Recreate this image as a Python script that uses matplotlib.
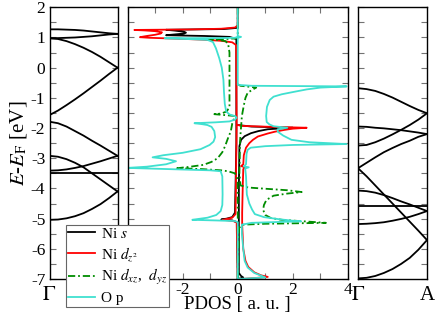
import numpy as np
import matplotlib
matplotlib.use("Agg")
import matplotlib.pyplot as plt
from matplotlib.ticker import MultipleLocator

plt.rcParams['font.family'] = ['Liberation Serif', 'DejaVu Serif']
plt.rcParams['mathtext.fontset'] = 'stix'
plt.rcParams['axes.unicode_minus'] = False

# ---------------- band structure data ----------------
kpts = [0.0, 0.125, 0.25, 0.375, 0.5, 0.625, 0.75, 0.875, 1.0]

# Gamma -> M panel
bands_gm = [
    [1.27, 1.27, 1.26, 1.25, 1.23, 1.20, 1.17, 1.14, 1.12],
    [0.98, 0.98, 0.99, 1.00, 1.02, 1.04, 1.07, 1.10, 1.12],
    [0.97, 0.95, 0.88, 0.78, 0.66, 0.52, 0.36, 0.18, 0.00],
    [-1.57, -1.42, -1.24, -1.05, -0.85, -0.64, -0.43, -0.21, 0.00],
    [-1.79, -1.84, -1.95, -2.10, -2.25, -2.42, -2.58, -2.75, -2.92],
    [-2.92, -2.95, -3.03, -3.15, -3.30, -3.50, -3.70, -3.90, -4.10],
    [-3.41, -3.40, -3.37, -3.32, -3.26, -3.18, -3.10, -3.01, -2.92],
    [-3.48, -3.48, -3.48, -3.48, -3.48, -3.48, -3.48, -3.48, -3.48],
    [-5.04, -5.03, -4.99, -4.92, -4.82, -4.68, -4.52, -4.32, -4.10],
]

# Gamma -> A panel
bands_ga = [
    [-0.68, -0.71, -0.77, -0.87, -0.99, -1.13, -1.27, -1.40, -1.51],
    [-1.95, -1.96, -1.99, -2.01, -2.04, -2.07, -2.11, -2.15, -2.20],
    [-2.58, -2.56, -2.47, -2.35, -2.21, -2.06, -1.90, -1.72, -1.51],
    [-3.33, -3.15, -2.97, -2.80, -2.66, -2.53, -2.42, -2.29, -2.20],
    [-3.33, -3.60, -3.90, -4.20, -4.50, -4.80, -5.10, -5.40, -5.71],
    [-4.07, -4.09, -4.14, -4.22, -4.32, -4.43, -4.53, -4.64, -4.75],
    [-4.58, -4.58, -4.58, -4.58, -4.58, -4.58, -4.58, -4.58, -4.58],
    [-5.18, -5.17, -5.15, -5.12, -5.07, -5.01, -4.94, -4.85, -4.75],
    [-6.98, -6.96, -6.90, -6.80, -6.67, -6.50, -6.30, -6.03, -5.71],
]

# ---------------- PDOS data: (energy, pdos) ----------------
ni_s_a = [(2.0, 0), (1.32, 0), (1.28, -0.5), (1.255, -2.6), (1.23, -2.3), (1.19, -1.95),
          (1.16, -1.88), (1.13, -1.95), (1.10, -2.3), (1.075, -2.6), (1.05, -1.2), (1.02, -0.3),
          (0.95, -0.05), (-2.5, -0.05), (-4.8, -0.1), (-4.95, -0.2), (-5.0, -0.4), (-5.03, -0.6),
          (-5.06, -0.2), (-5.12, -0.03), (-7.0, 0.0)]
ni_s_b = [(-1.9, 0.0), (-1.95, 0.5), (-1.99, 2.0), (-2.01, 1.6), (-2.04, 1.09), (-2.1, 0.75),
          (-2.17, 0.48), (-2.27, 0.25), (-2.39, 0.12), (-2.6, 0.06), (-4.0, 0.04), (-6.8, 0.04),
          (-6.9, 0.12), (-6.95, 0.2), (-6.98, 0.1), (-7.0, 0.0)]

ni_dz2_a = [(2.0, 0), (1.4, 0), (1.33, -0.1), (1.29, -0.6), (1.265, -1.8), (1.25, -3.75),
            (1.235, -3.4), (1.21, -3.0), (1.17, -2.75), (1.13, -2.8), (1.09, -3.0), (1.05, -3.3),
            (1.01, -3.55), (0.99, -3.2), (0.96, -2.2), (0.93, -1.3), (0.89, -0.6), (0.84, -0.2),
            (0.75, -0.06), (-1.9, -0.04), (-4.85, -0.08), (-4.97, -0.2), (-5.01, -0.4),
            (-5.04, -0.55), (-5.07, -0.2), (-5.12, -0.04), (-7.0, 0.0)]
ni_dz2_b = [(-1.9, 0.0), (-1.93, 0.2), (-1.96, 1.2), (-1.99, 2.5), (-2.02, 2.0), (-2.06, 1.7),
            (-2.12, 1.35), (-2.18, 1.09), (-2.28, 0.73), (-2.39, 0.55), (-2.5, 0.42), (-2.65, 0.3),
            (-2.9, 0.22), (-3.2, 0.2), (-3.26, 0.12), (-3.3, 0.26), (-3.36, 0.2), (-4.0, 0.18),
            (-4.8, 0.16), (-5.2, 0.16), (-6.0, 0.2), (-6.4, 0.28), (-6.6, 0.38), (-6.78, 0.6),
            (-6.88, 0.85), (-6.93, 1.09), (-6.97, 0.6), (-7.0, 0.1)]

ni_dxz_a = [(2.0, 0), (1.0, 0), (0.97, -0.1), (0.95, -0.4), (0.935, -1.1), (0.92, -0.7),
            (0.88, -0.45), (0.8, -0.35), (0.5, -0.3), (-0.5, -0.3), (-1.3, -0.3), (-1.45, -0.4),
            (-1.52, -0.6), (-1.54, -0.85), (-1.56, -0.6), (-1.6, -0.1), (-1.65, -0.12),
            (-1.85, -0.2), (-2.1, -0.25), (-2.35, -0.36), (-2.6, -0.46), (-2.8, -0.56),
            (-3.0, -0.73), (-3.12, -0.95), (-3.22, -1.25), (-3.29, -1.8), (-3.33, -2.2),
            (-3.36, -1.3), (-3.4, -0.6), (-3.43, -0.36), (-3.5, -0.1), (-3.7, 0.0), (-7.0, 0.0)]
ni_dxz_b = [(-0.55, 0.0), (-0.6, 0.1), (-0.63, 0.4), (-0.66, 0.67), (-0.72, 0.55), (-0.83, 0.36),
            (-1.0, 0.28), (-1.25, 0.22), (-1.6, 0.15), (-1.85, 0.13), (-2.2, 0.1), (-2.5, 0.08),
            (-3.5, 0.06), (-3.9, 0.1), (-3.97, 0.38), (-4.01, 1.0), (-4.06, 1.8), (-4.12, 2.32),
            (-4.17, 1.8), (-4.24, 1.3), (-4.38, 1.04), (-4.55, 0.95), (-4.71, 0.92), (-4.88, 1.0),
            (-4.98, 1.2), (-5.04, 1.6), (-5.09, 2.4), (-5.14, 3.2), (-5.17, 1.0), (-5.2, 0.2),
            (-5.3, 0.05), (-7.0, 0.0)]

o_p_a = [(1.02, 0.0), (0.99, -0.1), (0.98, -0.6), (0.975, -2.65), (0.95, -1.8), (0.92, -1.1),
         (0.85, -0.9), (0.64, -0.79), (0.31, -0.67), (0.0, -0.58), (-0.4, -0.52), (-0.8, -0.5),
         (-1.2, -0.47), (-1.45, -0.42), (-1.55, -0.3), (-1.61, -0.08), (-1.66, -0.05),
         (-1.72, -0.1), (-1.78, -0.3), (-1.81, -0.8), (-1.84, -1.57), (-1.87, -1.3), (-1.9, -1.1),
         (-1.96, -0.95), (-2.1, -0.85), (-2.3, -0.82), (-2.45, -0.88), (-2.56, -1.02),
         (-2.7, -1.35), (-2.82, -2.0), (-2.9, -2.7), (-2.97, -3.09), (-3.02, -2.6), (-3.1, -2.24),
         (-3.2, -2.6), (-3.28, -3.3), (-3.32, -4.0), (-3.36, -2.5), (-3.4, -1.0), (-3.43, -0.62),
         (-3.6, -0.56), (-4.2, -0.55), (-4.55, -0.56), (-4.75, -0.62), (-4.88, -0.78),
         (-4.97, -1.1), (-5.02, -1.5), (-5.04, -1.65), (-5.06, -0.8), (-5.08, -0.1),
         (-5.12, 0.0), (-7.0, 0.0)]
o_p_b = [(2.0, 0.0), (1.04, 0.0), (1.02, 0.12), (1.0, 0.05), (0.98, 0.0), (-0.57, 0.0),
         (-0.6, 0.5), (-0.62, 3.95), (-0.66, 3.0), (-0.72, 2.5), (-0.79, 2.1), (-0.88, 1.6),
         (-0.96, 1.3), (-1.07, 1.16), (-1.3, 1.06), (-1.6, 1.03), (-1.8, 1.05), (-1.88, 1.15),
         (-1.94, 1.3), (-1.99, 1.8), (-2.04, 1.45), (-2.12, 1.45), (-2.25, 1.65), (-2.39, 1.95),
         (-2.47, 2.6), (-2.53, 3.95), (-2.56, 2.0), (-2.6, 1.0), (-2.65, 0.47), (-2.72, 0.36),
         (-2.85, 0.32), (-3.2, 0.3), (-3.27, 0.22), (-3.3, 0.4), (-3.34, 0.27), (-3.6, 0.3),
         (-4.2, 0.33), (-4.5, 0.42), (-4.7, 0.52), (-4.85, 0.62), (-4.95, 0.95), (-5.02, 1.5),
         (-5.07, 2.0), (-5.09, 2.3), (-5.11, 1.5), (-5.14, 0.5), (-5.2, 0.15), (-5.5, 0.15),
         (-6.0, 0.2), (-6.4, 0.25), (-6.62, 0.36), (-6.8, 0.6), (-6.89, 0.85), (-6.95, 1.0),
         (-6.98, 0.4), (-7.0, 0.0)]

labels = ["Ni $s$", "Ni $d_{z^2}$", "Ni $d_{xz}$,  $d_{yz}$", "O p"]
colors = ["black", "#ff0000", "#008c00", "#40e0d0"]
styles = ["-", "-", (0, (4.0, 1.6, 1.0, 1.6)), "-"]
series = [(ni_s_a, ni_s_b), (ni_dz2_a, ni_dz2_b), (ni_dxz_a, ni_dxz_b), (o_p_a, o_p_b)]

W, H = 436, 317
fig = plt.figure(figsize=(W / 100, H / 100), dpi=100)

top_px, bot_px = 7.3, 279.0
def pos(l, r):
    return [l / W, 1 - bot_px / H, (r - l) / W, (bot_px - top_px) / H]

ax1 = fig.add_axes(pos(49.5, 117.5))
ax2 = fig.add_axes(pos(127.5, 348.0))
ax3 = fig.add_axes(pos(358.0, 427.0))

tick_col = '0.45'
for ax in (ax1, ax2, ax3):
    ax.set_ylim(-7, 2)
    ax.yaxis.set_major_locator(MultipleLocator(1))
    ax.yaxis.set_minor_locator(MultipleLocator(0.5))
    ax.tick_params(axis='y', which='both', direction='in', left=True, right=True,
                   color=tick_col, width=0.8, length=4.5)
    for sp in ax.spines.values():
        sp.set_linewidth(1.0)
        sp.set_color('black')

ax1.tick_params(axis='y', labelsize=12.5, pad=3)
ax2.tick_params(axis='y', labelleft=False)
ax3.tick_params(axis='y', labelleft=False)

# band panels
for b in bands_gm:
    ax1.plot(kpts, b, color='black', lw=1.3)
for b in bands_ga:
    ax3.plot(kpts, b, color='black', lw=1.3)
for ax, lab in ((ax1, [r"$\Gamma$", "M"]), (ax3, [r"$\Gamma$", "A"])):
    ax.set_xlim(0, 1)
    ax.set_xticks([0, 1])
    ax.set_xticklabels(lab, fontsize=15)
    ax.tick_params(axis='x', length=0, pad=5)

ax1.set_ylabel(r"$E$-$E_{\rm F}$ [eV]", fontsize=15, labelpad=1)

# PDOS panel
handles = []
for (sa, sb), c, ls, lab in zip(series, colors, styles, labels):
    e = [p[0] for p in sa] + [np.nan] + [p[0] for p in sb]
    v = [p[1] for p in sa] + [np.nan] + [p[1] for p in sb]
    h, = ax2.plot(v, e, color=c, ls=ls, lw=1.3, label=lab)
    handles.append(h)

ax2.set_xlim(-4, 4)
ax2.xaxis.set_major_locator(MultipleLocator(2))
ax2.xaxis.set_minor_locator(MultipleLocator(1))
ax2.tick_params(axis='x', which='both', direction='in', top=True, bottom=True,
                color=tick_col, width=0.8, length=4.5, labelsize=12.5, pad=2)
ax2.set_xlabel("PDOS [ a. u. ]", fontsize=13.5, labelpad=-1)

leg = fig.legend(handles=handles, loc='lower left',
                 bbox_to_anchor=(66 / W, 1 - 307 / H), borderaxespad=0,
                 fontsize=11, fancybox=False, framealpha=1, edgecolor='0.4',
                 handlelength=1.75, handletextpad=0.4, labelspacing=0.28,
                 borderpad=0.12)
leg.get_frame().set_linewidth(0.8)

fig.savefig("out.png", dpi=100)
